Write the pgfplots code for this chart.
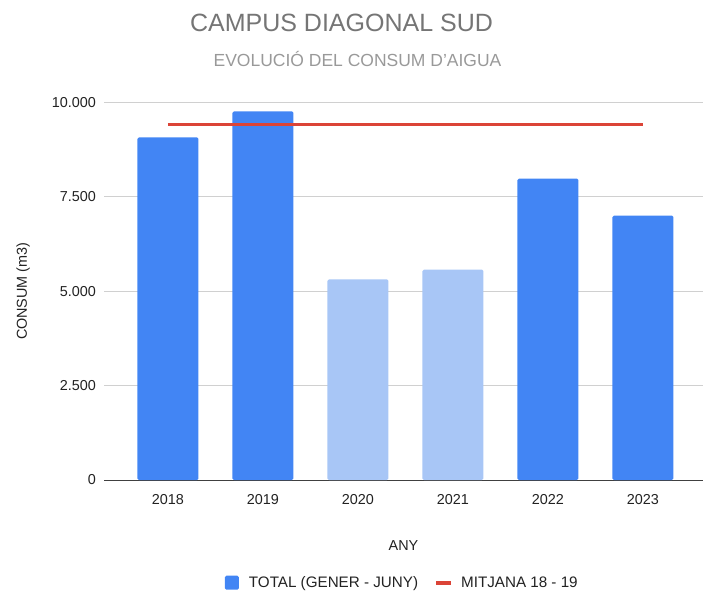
\documentclass[border=0pt]{standalone}
\usepackage{fontspec}
\setmainfont{Liberation Sans}
\usepackage{pgfplots}
\pgfplotsset{compat=1.18}
\definecolor{barblue}{HTML}{4285F4}
\definecolor{barlight}{HTML}{A8C6F6}
\definecolor{meanred}{HTML}{DB4437}
\definecolor{gridgray}{HTML}{D0D0D0}
\definecolor{titlegray}{HTML}{757575}
\definecolor{subgray}{HTML}{999999}
\definecolor{textdark}{HTML}{222222}
\begin{document}
\begin{tikzpicture}[x=1pt,y=1pt]
\useasboundingbox (0,0) rectangle (703,592);
\node[anchor=base, text=titlegray, font=\fontsize{25}{28}\selectfont] at (341.5,560.5) {CAMPUS DIAGONAL SUD};
\node[anchor=base, text=subgray, font=\fontsize{17.5}{20}\selectfont] at (357.5,525.5) {EVOLUCIÓ DEL CONSUM D'AIGUA};
\begin{axis}[
  at={(104pt,112pt)}, anchor=south west,
  width=599pt, height=377.6pt, scale only axis,
  xmin=-0.6737, xmax=5.632, ymin=0, ymax=10000,
  clip=false,
  scaled y ticks=false,
  axis line style={draw=none},
  major tick length=0pt,
  xtick={0,1,2,3,4,5},
  xticklabels={2018,2019,2020,2021,2022,2023},
  ytick={2500,5000,7500,10000},
  yticklabels={2.500,5.000,7.500,10.000},
  extra y ticks={0},
  extra y tick labels={0},
  extra y tick style={grid style={draw=black!75, line width=1pt}},
  ymajorgrids,
  grid style={gridgray, line width=0.9pt},
  tick label style={font=\fontsize{14.4}{16}\selectfont, text=textdark},
  x tick label style={anchor=base, yshift=-24pt, inner sep=0pt},
  y tick label style={anchor=east, xshift=-8pt, inner sep=0pt},
  xlabel={ANY},
  xlabel style={at={(axis description cs:0.5,0)}, anchor=base, yshift=-70pt, font=\fontsize{14.4}{16}\selectfont, text=textdark},
  ylabel={CONSUM (m3)},
  ylabel style={at={(axis description cs:0,0.5)}, anchor=base, yshift=77pt, font=\fontsize{14.4}{16}\selectfont, text=textdark},
  legend style={at={(0.498,-0.272)}, anchor=center, draw=none, fill=none,
    legend columns=2, font=\fontsize{15.2}{17}\selectfont, text=textdark,
    /tikz/every even column/.append style={column sep=14pt}},
]
\addplot[ybar, bar width=61pt, fill=barblue, draw=none, bar shift=0pt, rounded corners=1.5pt,
  legend image code/.code={\fill[barblue] (0pt,-7pt) rectangle (14pt,7pt); \path[draw=none,fill=none] (0pt,0pt) -- (22pt,0pt);}]
  coordinates {(0,9072) (1,9761) (4,7984) (5,7003)};
\addlegendentry{TOTAL (GENER - JUNY)}
\addplot[ybar, bar width=61pt, fill=barlight, draw=none, bar shift=0pt, rounded corners=1.5pt, forget plot]
  coordinates {(2,5315) (3,5569)};
\addplot[meanred, line width=3pt, mark=none,
  legend image code/.code={\draw[meanred, line width=4pt, line cap=butt] (0pt,0pt) -- (15pt,0pt); \path[draw=none,fill=none] (0pt,0pt) -- (23pt,0pt);}]
  coordinates {(0,9416) (1,9416) (2,9416) (3,9416) (4,9416) (5,9416)};
\addlegendentry{MITJANA 18 - 19}
\end{axis}
\end{tikzpicture}
\end{document}
